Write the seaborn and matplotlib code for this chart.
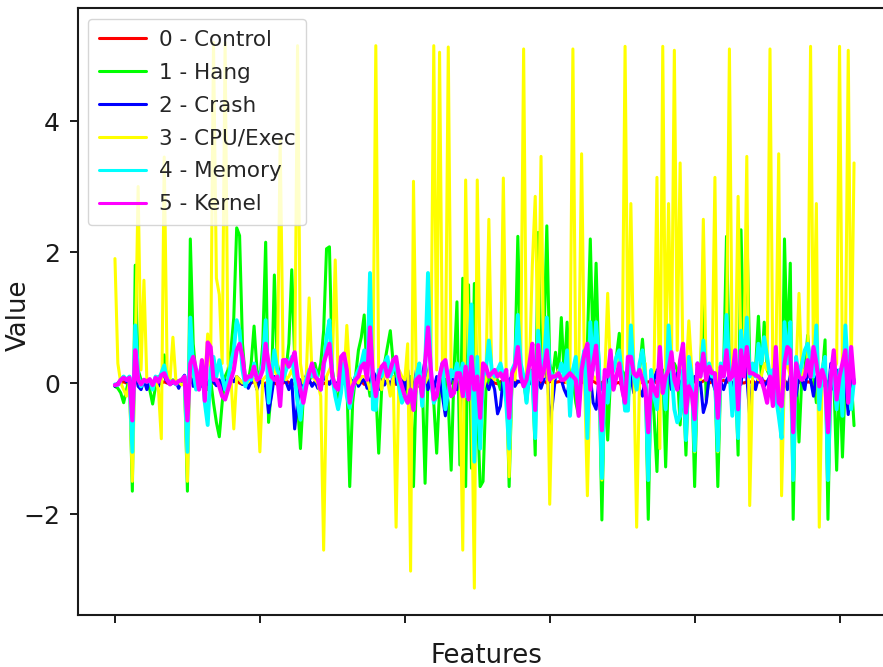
# recreate the per-class feature values line chart
import numpy as np
import pandas as pd
import matplotlib
matplotlib.use("Agg")
import matplotlib.pyplot as plt
import seaborn as sns

CLASS_NAMES = ["0 - Control", "1 - Hang", "2 - Crash", "3 - CPU/Exec", "4 - Memory", "5 - Kernel"]
COLORS = ["#ff0000", "#00ff00", "#0000ff", "#ffff00", "#00ffff", "#ff00ff"]
Y_TICKS = [-2, 0, 2, 4]
X_TICKS = [0, 50, 100, 150, 200, 250]

control = [
    -.03,-.02,.0,.02,.0,.01,-.02,.02,.0,-.01, .0,.01,-.01,.0,.01,-.01,.0,.02,.0,.0,
    .01,.0,-.01,.0,.01,-.02,.03,.0,-.01,.01, .0,-.02,.01,.02,.0,-.01,.0,.01,-.01,.0,
    .02,.03,.05,.0,-.02,.01,.04,.0,.03,-.01, .04,-.01,.0,.02,.05,.0,-.02,.01,.0,.03,
    .01,.0,-.02,.01,.0,-.03,.0,.02,-.01,.0, .03,.05,-.01,.01,.02,.0,-.02,.01,.0,.03,
    .05,.0,-.01,.02,.0,.03,-.02,.01,.0,.05, .04,.05,.0,.02,.03,.01,.0,-.02,.02,.0,
    .01,-.01,.02,.0,.03,-.01,.0,.02,.01,-.02, .0,.03,.01,.0,-.02,.01,.0,.02,-.01,.0,
    .01,.02,.0,-.01,.0,.02,-.01,.01,.0,.02, .03,.0,-.01,.02,.04,.05,.03,.02,.05,.01,
    .03,.04,.02,.01,.03,.0,.02,.01,.03,.0, .02,.03,.01,.02,.03,.01,.02,.0,.01,.02,
    .0,.01,.02,.0,.01,.03,.0,-.01,.01,.03, .0,.02,.03,.0,.01,-.05,.03,.0,.01,.02,
    .03,.02,.01,.0,.02,.01,.03,.0,.01,.02, .0,.03,.01,.02,.0,.01,.02,.0,.03,.01,
    .02,.0,.01,.03,.05,.0,.02,.01,.0,.03, .04,.02,.01,.0,.02,.03,.01,.0,.02,.01,
    .03,.0,.02,.01,.03,.0,.01,.02,.0,.01, .02,.03,.0,.01,.02,.0,.01,.03,.0,.02,
    .01,.0,.02,.03,.0,.01,.02,.0,.01,.03, .02,.0,.01,.02,.0,.01,
]

hang = [
    -.05,-.08,-.15,-.3,-.1,.1,-1.65,1.8,.2,.05, .02,.05,-.1,-.32,-.05,.1,.05,.43,.08,.02,
    .05,.02,.0,.03,.05,-1.65,2.2,.6,.1,.05, .2,.1,-.1,.05,-.3,-.6,-.82,-.3,.1,.2,
    .5,1.0,2.37,2.25,.6,.05,.02,.3,.87,.2, .05,.6,2.15,-.6,-.1,1.65,.3,.1,.05,.2,
    .6,1.73,.4,-.3,-1.0,-.2,.1,.05,.1,.3, .1,.3,.8,2.05,2.08,.2,-.1,-.3,.1,.3,
    .05,-1.58,-.3,.1,.5,.7,1.04,.1,-.2,.1, -.1,-1.07,-.1,.3,.55,.8,.3,.1,.05,-.1,
    -.2,.05,.1,-1.58,.1,.2,.1,-1.53,.1,.05, -.3,-1.07,-.1,.1,.05,-.3,-1.33,.2,1.24,-1.25,
    1.6,-1.58,1.5,-1.3,1.52,-.3,-1.58,-1.5,-.1,.1, .0,.1,.05,-.1,.1,.2,-1.58,.05,.3,2.24,
    .3,.05,-.3,.1,.2,-1.1,2.3,.4,.6,2.4, .3,.1,.47,.1,1.0,.1,.93,.1,.05,-.3,
    -.5,.3,.2,.6,2.2,.4,1.83,.2,-2.09,.1, -.87,.1,.2,.4,.76,.2,.1,-.3,.2,.1,
    .1,.2,.67,.1,-2.08,.1,-.5,-1.35,.1,.2, -1.28,.2,.1,.3,.2,-.64,.1,-1.1,.2,.1,
    -1.58,.1,.2,1.27,-.26,.1,.2,.1,-1.58,.1, .2,2.24,.3,.1,.2,-1.1,2.34,.4,2.4,.3,
    .1,.2,1.02,.1,.93,.2,.1,.1,-.1,-.3, -.87,2.2,.4,1.83,-2.08,.3,-.9,.1,.2,.73,
    .2,.1,-.3,.2,.1,.66,-2.08,.2,.1,-1.33, .2,-1.13,.1,.2,.1,-.65,
]

crash = [
    -.05,.0,.05,.1,.02,.1,-.1,.15,-.05,-.1, .05,-.1,.05,-.08,.03,-.05,.1,.1,.02,-.02,
    .0,.02,-.08,.05,.12,-.15,.2,-.05,.02,.05, -.05,.03,-.02,.06,.02,-.04,.05,-.1,.03,.04,
    .06,.02,.1,.05,-.02,.04,-.08,.02,.05,-.1, .03,.0,-.05,-.45,-.2,.1,.05,-.08,.06,.02,
    -.1,.05,-.7,-.3,.05,-.1,.12,.05,-.05,.02, -.08,.05,.1,.03,-.02,.06,-.1,.02,.05,.0,
    .03,.08,.0,.1,-.05,.02,.06,-.08,.03,.18, .1,-.1,.2,-.03,.05,-.05,.1,.02,-.05,.08,
    -.1,.2,-.2,-.1,.2,-.05,.1,.35,-.1,.05, -.1,.1,.05,-.2,-.5,-.1,.05,.12,-.1,.05,
    .15,-.05,.03,-.08,-.15,.05,-.02,.1,.0,-.1, .05,-.1,-.47,-.35,.1,-.2,.05,.1,-.05,.03,
    .02,.05,-.02,.04,-.03,.06,.02,-.08,.05,.45, -.65,-.3,.1,.2,.05,-.1,-.2,.1,.03,.2,
    -.15,.1,.05,-.2,.1,-.3,-.4,.05,-.1,-.05, .1,.2,-.1,.1,.2,-.05,-.4,.05,.1,-.15,
    .05,-.1,-.2,.1,-.55,-.1,.05,.2,.1,-.05, .1,.2,-.1,.05,.15,-.08,.1,.02,-.1,.05,
    .1,-.05,.02,-.45,-.3,.1,.05,-.1,.15,.02, -.1,.05,.12,-.05,.03,.06,-.02,.45,.1,-.5,
    .05,-.1,.08,.1,-.05,.02,.1,-.1,.05,-.08, .1,.05,-.1,.12,.03,-.2,.1,.05,-.1,.2,
    .05,-.2,.1,.03,-.05,.1,-.15,.3,-.1,.2, .1,-.05,.05,-.48,.1,.0,
][:256]

cpu_exec = [
    1.9,.3,.0,-.1,-.2,.0,-1.5,.4,3.0,.2, 1.57,.05,.02,.0,.03,-.1,-.85,3.45,.2,.05,
    .7,.05,.02,-.03,.0,-1.5,.35,.1,.05,-.05, .1,.05,.75,.2,5.2,1.6,1.35,.3,5.2,.3,
    .1,-.7,.1,.05,.0,.05,.02,.1,.05,-.1, -1.05,.05,.1,.05,.3,.2,.1,3.7,.4,.05,
    .1,.2,.05,5.15,.3,.0,.1,1.3,.1,.05, .0,-.2,-2.55,.1,.2,.3,1.88,.1,.4,.05,
    .88,.1,-.1,.05,.0,.1,.1,.05,-.1,.05, 5.15,.1,-.1,.2,.05,-.2,.1,-2.2,.2,.1,
    .05,.6,-2.87,3.08,-.1,.1,.05,.0,.1,.3, 5.15,.2,5.05,.3,.1,5.13,.1,.1,.2,.1,
    -2.55,3.1,.2,.1,-3.13,3.1,.2,-.1,.05,2.5, .1,.05,.2,.1,3.13,.05,-1.43,.1,.05,.6,
    .3,5.1,.1,.2,1.8,2.85,.4,3.46,.1,1.0, -1.85,.05,.1,.2,.05,.1,.0,.3,5.1,.1,
    .2,3.5,.1,-1.72,.2,.1,.05,.2,-1.48,.1, 1.37,.1,.2,.3,.4,.2,5.14,.3,2.74,.2,
    -2.2,.1,.2,.3,-1.48,.1,.2,3.14,-1.0,5.14, .2,2.74,.3,5.08,.5,3.36,.2,.1,.95,.2,
    -1.05,.1,.05,2.5,.1,.2,.1,3.14,-1.05,.2, .3,.6,5.1,.2,.1,2.85,.3,.4,3.46,-1.87,
    .1,.2,.05,.1,.3,.2,5.1,.1,.2,3.5, -1.72,.2,.3,.1,-1.48,.2,1.37,.1,.2,.2,
    5.14,.3,2.74,-2.2,.1,.2,-1.48,.1,.2,.3, 5.14,.2,.3,5.08,.1,3.36,
]

memory = [
    -.02,-.03,.05,.1,.05,.1,-1.05,.88,.1,-.05, .05,.02,.05,-.1,.1,.05,.15,.27,.05,.02,
    .02,-.02,.03,.05,.1,-1.05,1.0,.2,-.1,.1, .3,-.3,-.64,.2,.4,.1,.35,.1,-.1,.05,
    .3,.5,.96,.8,.2,-.05,.1,.05,.3,.05, .1,.3,.96,-.3,.1,.5,.2,.1,.05,.2,
    .3,.4,.1,-.3,-.56,-.1,.05,.2,.1,.2, .05,-.1,.2,.7,.96,.1,-.2,-.4,-.15,.3,
    -.2,-.38,-.1,.1,.2,.3,.5,.1,1.68,-.4, -.41,.2,.1,.3,.4,.1,.2,.3,-.05,-.3,
    -.2,-.3,-.1,-.4,.1,.3,-.35,.2,1.68,.1, -.3,-.2,.1,.3,-.4,-.1,.2,.1,.3,.05,
    .3,-.2,.3,1.2,-1.2,.4,-1.0,.1,.2,.65, .2,.1,.2,.3,.1,-.3,-1.0,.2,.3,1.04,
    .3,.1,-.3,.2,.1,-.84,.8,.2,.3,1.0, .2,.1,.1,.1,.3,.1,.5,-.5,.2,.4,
    -.2,.3,.5,-.84,.93,.2,.93,.3,-1.45,.1, -.3,.1,.2,.4,.5,.1,-.42,-.42,.88,.1,
    -.1,.3,.5,.1,-1.48,.2,-.2,-.4,.2,.1, -.4,.88,.2,-.4,-.6,-.5,.2,-.87,.4,.1,
    -1.03,.3,.1,.65,.1,.3,.1,.1,-1.03,.3, .1,1.04,.2,-.5,.1,-.84,.8,.2,1.0,.1,
    .3,.1,.6,.3,.7,.4,.1,.2,-.2,-.5, -.84,.93,.3,.93,-1.48,.4,.1,.3,.5,.6,
    .3,.1,.88,-.4,.2,.4,-1.48,.2,.1,-.4, .2,-.5,.88,.1,-.4,.05,
]

kernel = [
    -.03,-.02,.05,.08,.05,.08,-.57,.5,.05,-.02, .05,.02,.06,-.03,.08,.02,.12,.15,.05,-.02,
    .03,-.01,.03,.05,.1,-.57,.3,.4,.2,-.1, .35,-.27,.62,.55,.05,.05,-.05,-.2,-.25,-.1,
    .05,.2,.5,.6,.4,.05,.1,.1,.25,.05, .08,.2,.6,.3,.1,.05,.1,-.35,.35,.35,
    .25,.35,.47,.1,-.1,-.3,-.05,.15,.3,.1, .05,-.1,.3,.45,.6,.1,-.05,-.1,.4,.45,
    .2,-.3,-.05,.05,.1,.25,.3,.05,.85,.1, -.2,.1,.25,.3,.1,.2,.35,.4,.1,-.05,
    -.2,-.3,-.1,-.41,.05,.1,-.2,.3,.85,.2, -.25,-.2,.1,.3,.35,.05,-.2,-.15,.15,.15,
    -.2,.25,-.25,.4,-.1,.1,-.53,.3,.25,.1, .15,.2,.1,.15,.05,.2,-.53,.15,.25,.55,
    .1,-.05,.05,.3,.6,-.41,.58,.05,.2,.5, .05,.1,.1,.15,.05,.05,.1,.15,.1,.05,
    -.5,.2,.45,.6,-.1,.3,.57,-.1,-.72,.2, .1,.5,-.1,.1,.3,-.1,-.3,.4,.4,.15,
    .1,.2,.05,-.1,-.75,.05,-.1,-.2,.55,-.15, .1,.2,.47,.05,-.1,.35,.6,-.45,-.05,-.15,
    -.55,.3,.1,.45,.05,.25,.15,.15,-.53,.25, .1,.5,.05,.1,.5,-.4,.5,.1,.55,.15,
    .15,.12,.1,.05,-.1,-.3,.1,-.35,.55,-.3, -.35,.3,.55,.5,-.75,.3,.1,.05,.1,.35,
    .1,.55,.3,-.05,.2,.05,-.75,.1,.5,-.25, .1,.3,.5,-.3,.55,.0,
]


def build_table():
    series = [control, hang, crash, cpu_exec, memory, kernel]
    frames = []
    for name, values in zip(CLASS_NAMES, series):
        frames.append(pd.DataFrame({"Features": np.arange(len(values)), "Value": values, "Class": name}))
    return pd.concat(frames, ignore_index=True)


sns.set_style("ticks")
plt.rcParams["font.family"] = ["DejaVu Sans"]

fig = plt.figure(figsize=(8.83, 6.67), dpi=100)
ax = fig.add_axes([78 / 883, 52 / 667, 813 / 883, 607 / 667])

df = build_table()
sns.lineplot(data=df, x="Features", y="Value", hue="Class", hue_order=CLASS_NAMES,
             palette=COLORS, estimator=None, linewidth=2.2, ax=ax)

# the last two classes look heavier in the plot than in the legend
ax.lines[4].set_linewidth(2.8)
ax.lines[5].set_linewidth(3.0)

ax.set_xlim(-12.75, 267.75)
ax.set_ylim(-3.54, 5.725)
ax.set_xticks(X_TICKS)
ax.set_xticklabels([])
ax.set_yticks(Y_TICKS)
ax.set_yticklabels(["\u22122", "0", "2", "4"])
ax.tick_params(axis="both", length=5.8, width=1.4, labelsize=18, pad=7, colors="#1a1a1a")
ax.set_xlabel("Features", fontsize=18.7, color="#1a1a1a", va="top")
ax.set_ylabel("Value", fontsize=18.7, color="#1a1a1a", va="bottom")
ax.xaxis.set_label_coords(408 / 813, -28 / 607)
ax.yaxis.set_label_coords(-46 / 813, 300 / 607)
for side in ax.spines:
    ax.spines[side].set_linewidth(1.5)
    ax.spines[side].set_color("#1a1a1a")

ax.legend(title=None, loc="upper left", fontsize=15.5, bbox_to_anchor=(10 / 813, 596 / 607),
          borderaxespad=0, borderpad=0.5, labelspacing=0.6, handlelength=2.2, handletextpad=0.6)

fig.savefig("out.png", dpi=100)
